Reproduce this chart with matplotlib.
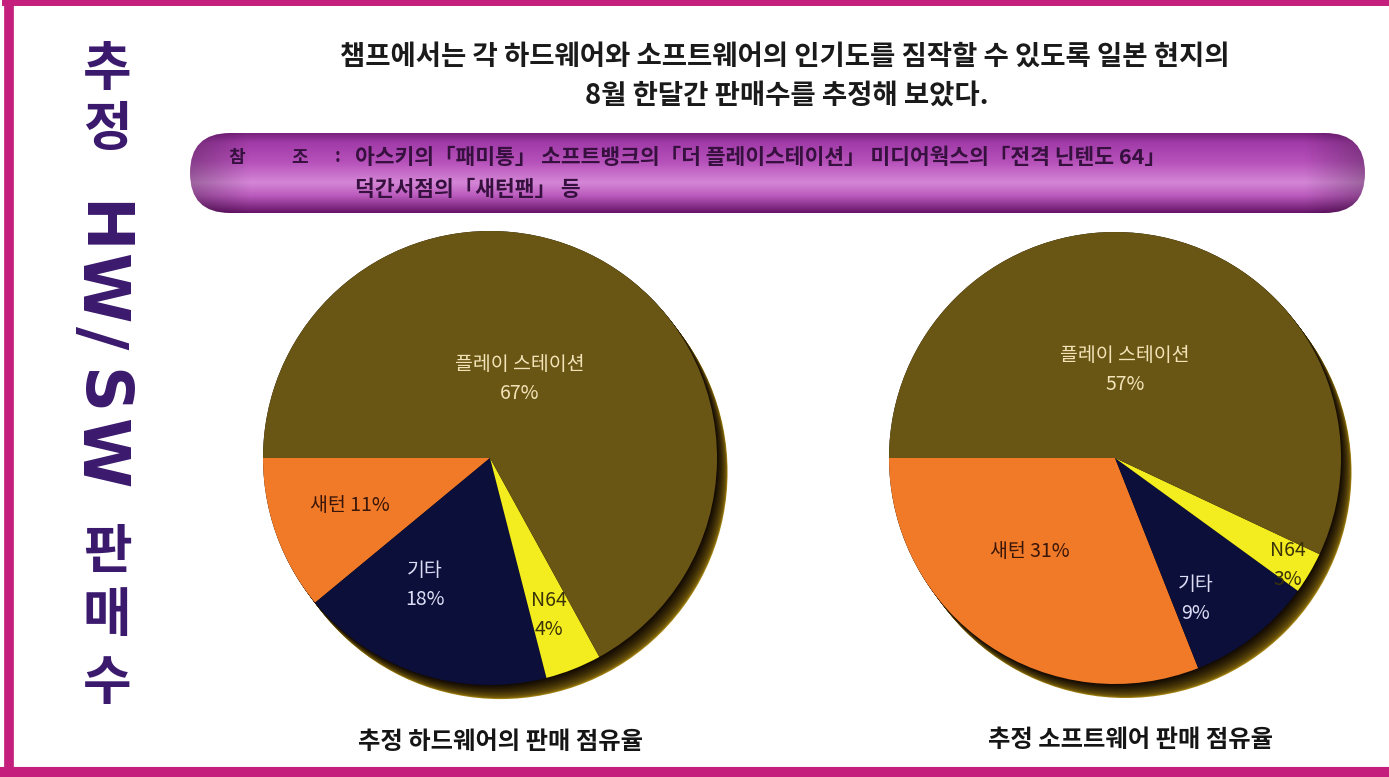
import numpy as np
import matplotlib
matplotlib.use("Agg")
import matplotlib.pyplot as plt
from matplotlib.patches import FancyBboxPatch, Circle
from matplotlib.colors import LinearSegmentedColormap, to_rgb

plt.rcParams['font.family'] = ['Noto Sans CJK KR', 'DejaVu Sans']

# ---------------- data ----------------
categories = ["새턴", "기타", "N64", "플레이 스테이션"]
hw_values = [11, 18, 4, 67]
sw_values = [31, 9, 3, 57]
hw_caption = "추정 하드웨어의 판매 점유율"
sw_caption = "추정 소프트웨어 판매 점유율"
title_lines = ["챔프에서는 각 하드웨어와 소프트웨어의 인기도를 짐작할 수 있도록 일본 현지의",
               "8월 한달간 판매수를 추정해 보았다."]
ref_head = ["참", "조", ":"]
ref_lines = ["아스키의「패미통」 소프트뱅크의「더 플레이스테이션」 미디어웍스의「전격 닌텐도 64」",
             "덕간서점의「새턴팬」 등"]
side_top = ["추", "정"]
side_mid = ["H", "W", "/", "S", "W"]
side_bot = ["판", "매", "수"]

# ---------------- style ----------------
W, H = 1389, 777
slice_colors = ["#f07a28", "#0b0f3a", "#f3ec1e", "#6a5614"]
label_colors = ["#3a1608", "#dcdcf4", "#3a3208", "#f2e4b8"]
label_sep = [" ", "\n", "\n", "\n"]
hw_label_r = [0.65, 0.63, 0.74, 0.37]
hw_label_dt = [-1, -9, -1, 10]
sw_label_r = [0.56, 0.72, 0.90, 0.39]
sw_label_dt = [-8, -8, -1, 6]

fig = plt.figure(figsize=(W / 100, H / 100), dpi=100)
fig.patch.set_facecolor("white")

bg = fig.add_axes([0, 0, 1, 1])
bg.set_xlim(0, W)
bg.set_ylim(H, 0)
bg.axis("off")

# frame
bg.plot([9, 9], [3, 772], color="#c41f7c", lw=7, solid_capstyle="butt")
bg.plot([5, W + 5], [2, 2], color="#c41f7c", lw=5)
bg.plot([5, W + 5], [772, 772], color="#c41f7c", lw=8)

# vertical side title
side_color = "#3b1a6e"
for ch, y in zip(side_top, [70, 130]):
    bg.text(107, y, ch, fontsize=38, fontweight="bold", color=side_color,
            ha="center", va="center")
for ch, y in zip(side_mid, [228, 288, 338, 392, 453]):
    bg.text(99, y, ch, fontsize=46, fontweight="bold", color=side_color,
            ha="center", va="center", rotation=-90,
            family=["Liberation Sans Narrow", "DejaVu Sans"])
for ch, y in zip(side_bot, [552, 615, 684]):
    bg.text(107, y, ch, fontsize=38, fontweight="bold", color=side_color,
            ha="center", va="center")

# title
bg.text(785, 57, title_lines[0], fontsize=19.8, fontweight="bold", color="#1a1a1a",
        ha="center", va="center")
bg.text(787, 96, title_lines[1], fontsize=19.8, fontweight="bold", color="#1a1a1a",
        ha="center", va="center")

# banner (purple tube)
bx0, bx1, by0, by1 = 190, 1365, 133, 213
stops = [(0.0, "#7a2280"), (0.12, "#a23ca8"), (0.35, "#b54fb9"),
         (0.62, "#d486d6"), (0.78, "#bb5cbe"), (1.0, "#661468")]
cmap = LinearSegmentedColormap.from_list("tube", stops)
grad = np.linspace(0, 1, 200).reshape(-1, 1)
xs = np.linspace(0, 1, 400)
shade = 1 - 0.25 * (np.clip(np.abs(xs - 0.5) * 2 - 0.9, 0, 1) / 0.1)
img = cmap(grad)[:, :, :3] * np.ones((1, 400, 1))
img = img * shade.reshape(1, -1, 1)
box = FancyBboxPatch((bx0, by0), bx1 - bx0, by1 - by0,
                     boxstyle="round,pad=0,rounding_size=40",
                     facecolor="none", edgecolor="none")
bg.add_patch(box)
im = bg.imshow(img, extent=(bx0, bx1, by1, by0), aspect="auto", zorder=1)
im.set_clip_path(box)
bg.set_xlim(0, W)
bg.set_ylim(H, 0)

tc = "#36103e"
bg.text(237, 158, ref_head[0], fontsize=13, fontweight="bold", color=tc, ha="center", va="center", zorder=3)
bg.text(300, 158, ref_head[1], fontsize=13, fontweight="bold", color=tc, ha="center", va="center", zorder=3)
bg.text(338, 157, ref_head[2], fontsize=13, fontweight="bold", color=tc, ha="center", va="center", zorder=3)
bg.text(355, 158, ref_lines[0], fontsize=15.5, fontweight="bold", color=tc, ha="left", va="center", zorder=3)
bg.text(355, 189, ref_lines[1], fontsize=15.5, fontweight="bold", color=tc, ha="left", va="center", zorder=3)

# captions
bg.text(500, 742, hw_caption, fontsize=17.5, fontweight="bold", color="#151515", ha="center", va="center")
bg.text(1130, 740, sw_caption, fontsize=17.5, fontweight="bold", color="#151515", ha="center", va="center")


def draw_pie(cx, cy, R, values, label_r, label_dt):
    lim = 1.12
    size = 2 * lim * R
    ax = fig.add_axes([(cx - lim * R) / W, (H - cy - lim * R) / H, size / W, size / H])
    ax.set_xlim(-lim, lim)
    ax.set_ylim(-lim, lim)
    ax.axis("off")
    # 3D rim toward lower right: dark near the face, golden at the outer edge
    n = 16
    far = np.array(to_rgb("#a08010"))
    near = np.array(to_rgb("#100802"))
    for k in range(n):
        t = (k / (n - 1)) ** 0.5
        off = 0.062 * (1 - k / (n - 1))
        col = far * (1 - t) + near * t
        ax.add_patch(Circle((off * 0.75, -off), 1.0, color=col, lw=0, zorder=1))
    wedges, _ = ax.pie(values, colors=slice_colors, startangle=180, counterclock=True,
                       radius=1.0, wedgeprops=dict(linewidth=0))
    for w in wedges:
        w.set_zorder(2)
    ax.set_xlim(-lim, lim)
    ax.set_ylim(-lim, lim)
    for i, w in enumerate(wedges):
        mid = np.deg2rad((w.theta1 + w.theta2) / 2 + label_dt[i])
        x, y = label_r[i] * np.cos(mid), label_r[i] * np.sin(mid)
        ax.text(x, y, f"{categories[i]}{label_sep[i]}{values[i]}%", fontsize=14,
                color=label_colors[i], ha="center", va="center", linespacing=1.5,
                zorder=5)
    return ax


draw_pie(490, 458, 227, hw_values, hw_label_r, hw_label_dt)
draw_pie(1115, 458, 226, sw_values, sw_label_r, sw_label_dt)

fig.savefig("out.png", dpi=100, facecolor="white")
